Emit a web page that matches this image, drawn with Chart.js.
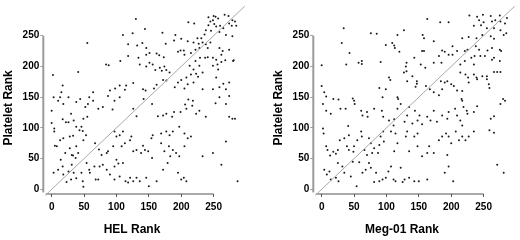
<!DOCTYPE html>
<html>
<head>
<meta charset="utf-8">
<script src="https://cdn.jsdelivr.net/npm/chart.js"></script>
<style>
  html, body { margin: 0; padding: 0; background: #fff; }
  #wrap { position: relative; width: 520px; height: 240px; }
  .box { position: absolute; top: 0; width: 250px; height: 240px; }
</style>
</head>
<body>
<div id="wrap">
  <div class="box" style="left:0px"><canvas id="helChart" width="250" height="240"></canvas></div>
  <div class="box" style="left:270px"><canvas id="megChart" width="250" height="240"></canvas></div>
</div>
<script>
// tick labels shared by both panels
const tickValues = [0, 50, 100, 150, 200, 250];
const identityLine = [-10, 298];
const yTitle = 'Platelet Rank';
const xTitles = ['HEL Rank', 'Meg-01 Rank'];

// [cell line rank, platelet rank]
const helPoints = [
  [130,277],[242,280],[250,282],[253,281],[257,278],[267,284],[273,282],[279,275],[283,273],[245,273],
  [249,275],[251,269],[242,267],[254,265],[260,266],[265,262],[274,270],[278,266],[285,266],[211,272],
  [220,270],[144,261],[171,255],[110,251],[125,254],[191,251],[238,259],[246,258],[236,252],[231,246],
  [225,246],[200,245],[259,256],[269,251],[279,249],
  [55,238],[118,236],[132,234],[140,238],[146,230],[176,237],[189,242],[199,226],[204,226],[210,241],
  [219,239],[227,237],[233,239],[238,236],[245,239],[228,230],[222,227],[241,230],[259,230],[264,225],
  [274,227],[262,219],[118,217],[134,214],[146,219],[151,222],[162,221],[166,218],[151,206],[156,203],
  [173,215],[195,224],[205,219],[215,222],[229,214],[237,214],[241,215],[249,214],[254,211],[222,209],
  [213,201],[219,195],[228,201],[106,209],[84,203],[88,202],[41,191],[2,186],[136,203],[146,200],
  [167,198],[174,200],[249,201],[256,203],[262,207],[268,210],[280,209],[281,210],
  [177,194],[170,193],[160,194],[182,190],[200,178],[208,182],[215,187],[223,188],[233,190],[226,183],
  [210,171],[219,174],[257,195],[254,182],[265,172],[274,174],[233,163],[249,163],[259,166],[269,163],
  [274,152],[177,177],[172,178],[190,166],[195,174],[205,164],[162,170],[158,164],[145,161],[141,163],
  [126,173],[115,169],[113,162],[105,169],[98,164],[90,161],[87,152],[64,158],[58,150],[17,169],
  [15,158],[13,150],[3,150],[26,150],[44,147],
  [0,128],[10,144],[18,139],[30,123],[38,142],[52,134],[56,139],[64,144],[72,131],[79,134],
  [94,130],[97,144],[105,150],[126,131],[142,147],[131,119],[155,139],[164,119],[172,120],[177,123],
  [186,118],[189,126],[199,126],[206,138],[211,146],[218,144],[217,136],[208,131],[223,123],[228,128],
  [238,118],[253,140],[259,150],[269,139],[279,115],[283,115],[274,118],[0,108],[4,94],[17,114],
  [22,109],[26,109],[34,112],[49,115],[55,118],[38,102],[46,102],
  [4,99],[5,71],[8,70],[13,80],[18,83],[28,86],[33,87],[38,70],[49,80],[53,88],
  [48,95],[43,96],[28,67],[31,56],[33,55],[41,59],[37,51],[21,59],[14,48],[67,75],
  [73,65],[85,59],[87,62],[77,56],[95,70],[100,86],[97,94],[105,88],[110,94],[113,75],
  [121,80],[123,86],[108,70],[126,62],[131,64],[138,59],[144,64],[149,62],[141,71],[154,83],
  [156,88],[169,91],[177,94],[182,88],[187,94],[197,102],[205,91],[169,75],[181,70],[174,62],
  [187,64],[192,59],[183,54],[197,54],[210,83],[215,86],[205,70],[233,54],[249,59],[269,78],[155,51],
  [3,27],[10,32],[17,37],[18,24],[26,29],[31,40],[34,27],[38,18],[30,16],[23,12],
  [48,13],[46,27],[54,43],[58,32],[59,27],[66,37],[74,37],[79,40],[85,32],[68,16],
  [72,16],[90,24],[97,37],[100,48],[103,42],[110,43],[97,16],[105,21],[114,13],[118,11],
  [121,19],[126,13],[131,19],[136,13],[146,19],[150,5],[49,4],[162,13],[172,32],[179,43],
  [195,27],[200,16],[204,19],[208,13],[287,13],[262,40]
];

const megPoints = [
  [163,277],[228,283],[240,281],[249,284],[261,282],[275,283],[286,279],[243,275],[250,272],[263,273],
  [268,275],[276,273],[283,270],[235,266],[246,267],[255,262],[266,262],[276,259],[281,251],[285,254],
  [183,272],[196,272],[127,259],[34,262],[76,254],[85,253],[117,251],[156,251],[158,246],[217,246],
  [227,248],[239,246],[248,251],[261,249],[266,245],
  [31,238],[109,238],[112,234],[99,235],[113,230],[120,224],[173,241],[186,226],[190,224],[202,233],
  [209,225],[221,225],[225,227],[238,233],[243,227],[256,226],[263,230],[275,227],[277,225],[43,222],
  [155,225],[158,225],[143,214],[131,206],[130,200],[153,203],[160,198],[173,206],[181,217],[196,219],
  [202,219],[221,209],[231,214],[236,217],[245,217],[252,217],[263,211],[266,214],[275,209],[38,203],
  [0,202],[57,206],[62,209],[62,204],[91,207],[185,206],[214,203],[235,203],
  [0,168],[4,158],[7,151],[106,178],[99,163],[89,165],[94,150],[118,147],[117,150],[147,172],
  [147,176],[161,168],[167,163],[173,158],[184,176],[190,174],[194,176],[200,171],[204,168],[214,190],
  [222,187],[226,182],[235,187],[239,182],[248,184],[255,184],[227,174],[240,179],[255,179],[266,191],
  [271,191],[276,191],[258,171],[259,165],[209,161],[217,160],[145,167],[104,182],[132,176],[131,192],
  [140,184],[127,190],[181,153],[186,163],[216,147],[217,144],
  [2,139],[7,128],[14,123],[18,147],[26,146],[29,131],[48,148],[50,144],[51,139],[37,131],
  [61,128],[63,120],[71,118],[70,126],[81,131],[93,128],[95,118],[104,112],[112,114],[111,104],
  [117,131],[122,139],[135,134],[144,128],[151,120],[148,112],[140,107],[128,110],[132,120],[155,106],
  [163,118],[168,112],[173,128],[178,110],[186,120],[194,115],[196,126],[206,131],[209,120],[219,134],
  [224,128],[225,123],[214,112],[217,104],[235,126],[240,135],[261,115],[266,119],[276,139],[280,147],[283,144],
  [2,99],[3,91],[7,70],[9,64],[13,55],[18,61],[22,58],[25,64],[41,103],[42,88],
  [28,80],[35,83],[39,70],[42,64],[49,61],[50,70],[55,80],[61,94],[62,86],[73,83],
  [76,75],[81,67],[78,59],[70,56],[66,64],[87,59],[89,72],[91,86],[95,94],[96,78],
  [107,94],[114,91],[117,75],[112,62],[130,86],[132,94],[143,86],[148,91],[135,62],[148,70],
  [155,54],[163,59],[166,70],[173,59],[181,80],[186,86],[192,91],[194,56],[200,75],[196,86],
  [207,94],[212,80],[217,86],[222,80],[227,86],[235,94],[259,96],[266,92],
  [4,32],[8,24],[12,29],[14,16],[22,19],[26,13],[25,43],[32,37],[35,27],[48,45],
  [45,21],[54,5],[58,44],[63,27],[68,32],[73,43],[76,35],[84,27],[89,13],[81,12],
  [94,16],[99,19],[103,29],[107,37],[111,16],[114,13],[122,35],[125,12],[128,16],[135,19],
  [143,13],[150,13],[163,16],[190,27],[196,37],[203,13],[271,40],[281,27]
];

const FONT = "'Liberation Sans', Arial, Helvetica, sans-serif";

// Prism-style offset axes: lines only run up to the last tick
const axisLines = {
  id: 'axisLines',
  beforeDatasetsDraw(chart) {
    const { ctx, chartArea, scales: { x, y } } = chart;
    const last = tickValues[tickValues.length - 1];
    ctx.save();
    ctx.strokeStyle = '#9a9a9a';
    ctx.lineWidth = 2;
    ctx.beginPath();
    ctx.moveTo(chartArea.left, y.getPixelForValue(-5));
    ctx.lineTo(chartArea.left, y.getPixelForValue(last));
    ctx.stroke();
    ctx.strokeStyle = '#555';
    ctx.lineWidth = 1.2;
    ctx.beginPath();
    ctx.moveTo(x.getPixelForValue(-9), chartArea.bottom);
    ctx.lineTo(x.getPixelForValue(last), chartArea.bottom);
    ctx.stroke();
    ctx.restore();
  }
};

// axis titles are centred on the 0..~265 range, not on the whole plot box
const axisTitles = {
  id: 'axisTitles',
  afterDraw(chart, args, opts) {
    const { ctx, chartArea, scales: { x, y } } = chart;
    ctx.save();
    ctx.fillStyle = '#000';
    ctx.font = 'bold 12px ' + FONT;
    ctx.textAlign = 'center';
    ctx.textBaseline = 'middle';
    ctx.fillText(opts.xText, (chartArea.left + x.getPixelForValue(261)) / 2, chart.height - 10.5);
    ctx.translate(9, (chartArea.bottom + y.getPixelForValue(272.5)) / 2);
    ctx.rotate(-Math.PI / 2);
    ctx.fillText(opts.yText, 0, 0);
    ctx.restore();
  }
};

function makeChart(id, points, xTitle) {
  const data = points.map(p => ({ x: p[0], y: p[1] }));
  const diag = identityLine.map(v => ({ x: v, y: v }));
  return new Chart(document.getElementById(id), {
    type: 'scatter',
    data: {
      datasets: [
        {
          data: diag,
          showLine: true,
          borderColor: '#a8a8a8',
          borderWidth: 1,
          pointRadius: 0,
          clip: false
        },
        {
          data: data,
          pointRadius: 1,
          borderWidth: 0,
          backgroundColor: '#1a1a1a',
          clip: false
        }
      ]
    },
    options: {
      responsive: false,
      animation: false,
      events: [],
      layout: { padding: { top: 5, right: 3.2, left: 0, bottom: 0 } },
      plugins: {
        legend: { display: false },
        tooltip: { enabled: false },
        axisTitles: { xText: xTitle, yText: yTitle }
      },
      scales: {
        x: {
          type: 'linear',
          min: -12.9,
          max: 300,
          afterBuildTicks: s => { s.ticks = tickValues.map(v => ({ value: v })); },
          afterFit: s => { s.height = 46; },
          border: { display: false },
          grid: { drawOnChartArea: false, drawTicks: true, tickLength: 3, color: '#555', lineWidth: 1 },
          ticks: { autoSkip: false, maxRotation: 0, padding: 4, color: '#000',
                   font: { family: FONT, size: 10, weight: 'bold' } }
        },
        y: {
          type: 'linear',
          min: -7.6,
          max: 296.7,
          afterBuildTicks: s => { s.ticks = tickValues.map(v => ({ value: v })); },
          afterFit: s => { s.width = 43.3; },
          border: { display: false },
          grid: { drawOnChartArea: false, drawTicks: true, tickLength: 3, color: '#9a9a9a', lineWidth: 1 },
          ticks: { autoSkip: false, padding: 1, color: '#000',
                   font: { family: FONT, size: 10, weight: 'bold' } }
        }
      }
    },
    plugins: [axisLines, axisTitles]
  });
}

makeChart('helChart', helPoints, xTitles[0]);
makeChart('megChart', megPoints, xTitles[1]);
</script>
</body>
</html>
